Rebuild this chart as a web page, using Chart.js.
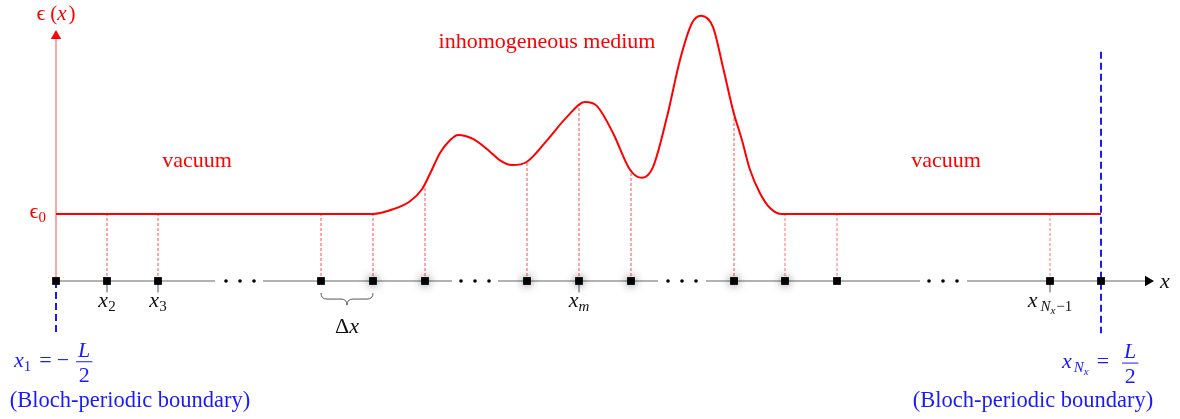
<!DOCTYPE html>
<html>
<head>
<meta charset="utf-8">
<script src="https://cdn.jsdelivr.net/npm/chart.js@4.4.1/dist/chart.umd.min.js"></script>
<style>
  html, body { margin: 0; padding: 0; background: #fff; }
  #wrap { width: 1180px; height: 419px; }
</style>
</head>
<body>
<div id="wrap"><canvas id="myChart" width="1180" height="419"></canvas></div>
<script>
// positions along x (same units as the picture), heights in units where eps0 = 1
const eps0 = 1;
const gridX = [56, 107, 158, 321, 373, 425, 527, 579, 631, 734, 785, 837, 1050, 1101];
const glowX = [373, 425, 527, 579, 631, 734, 785];
const ellipsisX = [226, 240, 254, 461, 475, 489, 668, 682, 696, 929, 943, 957];
const axisSegments = [[56, 215], [263, 452], [498, 658], [706, 920], [967, 1150]];

const curveX = [56, 373, 393, 410, 422, 430, 440, 450, 458, 473, 490, 500, 512, 527, 547, 567, 585, 597, 613, 630, 642, 653, 667, 680, 692, 701, 713, 723, 733, 742, 750, 760, 770, 782, 1101];
const curveEps = [1, 1, 1.07, 1.19, 1.37, 1.60, 1.91, 2.10, 2.18, 2.12, 1.93, 1.80, 1.73, 1.78, 2.10, 2.45, 2.67, 2.61, 2.21, 1.66, 1.54, 1.70, 2.45, 3.30, 3.85, 3.96, 3.79, 3.19, 2.55, 2.10, 1.66, 1.31, 1.09, 1, 1];

const dropX = [107, 158, 321, 373, 425, 527, 579, 631, 734];
const dropTop = [1, 1, 1, 1, 1.43, 1.78, 2.64, 1.66, 2.55];
const dropLightX = [785, 837, 1050];
const dropLightTop = [1, 1, 1];

const tickX = [107, 158, 579, 1050];
const tickLabels = ["2", "3", "m", "Nx-1"];

const leftBoundX = 56;
const rightBoundX = 1101;

function vlines(xs, tops, bottoms) {
  const out = [];
  xs.forEach((x, i) => {
    out.push({ x: x, y: bottoms[i] }, { x: x, y: tops[i] }, { x: x, y: null });
  });
  return out;
}

function hlines(segs, y) {
  const out = [];
  segs.forEach(([a, b]) => {
    out.push({ x: a, y: y }, { x: b, y: y }, { x: b, y: null });
  });
  return out;
}

const serif = "'Liberation Serif', 'DejaVu Serif', serif";
const red = "#ff0000";
const blue = "#1a1aff";

function fontOf(r) {
  return (r.it ? "italic " : "") + r.sz + "px " + serif;
}

function drawRuns(ctx, runs, x, y, align, color) {
  const widths = [];
  let total = 0;
  runs.forEach((r) => {
    let w;
    if (r.gap) {
      w = r.gap;
    } else if (r.frac) {
      ctx.font = fontOf({ sz: r.sz, it: true });
      const w1 = ctx.measureText(r.frac[0]).width;
      ctx.font = fontOf({ sz: r.sz });
      const w2 = ctx.measureText(r.frac[1]).width;
      w = Math.max(w1, w2) + 6;
    } else {
      ctx.font = fontOf(r);
      w = ctx.measureText(r.t).width;
    }
    widths.push(w);
    total += w;
  });
  let cx = align === "center" ? x - total / 2 : align === "right" ? x - total : x;
  ctx.fillStyle = color;
  ctx.strokeStyle = color;
  ctx.textBaseline = "alphabetic";
  runs.forEach((r, i) => {
    const w = widths[i];
    if (r.gap) {
      // spacing only
    } else if (r.frac) {
      const bar = y - 5;
      ctx.textAlign = "center";
      ctx.font = fontOf({ sz: r.sz, it: true });
      ctx.fillText(r.frac[0], cx + w / 2, bar - 5);
      ctx.font = fontOf({ sz: r.sz });
      ctx.fillText(r.frac[1], cx + w / 2, bar + 20);
      ctx.lineWidth = 1;
      ctx.beginPath();
      ctx.moveTo(cx + 1, bar);
      ctx.lineTo(cx + w - 1, bar);
      ctx.stroke();
    } else {
      ctx.textAlign = "left";
      ctx.font = fontOf(r);
      ctx.fillText(r.t, cx, y + (r.dy || 0));
    }
    cx += w;
  });
}

const sub = (t, it) => ({ t: t, sz: 15, it: it, dy: 4 });
const X = { t: "x", sz: 22, it: true };

const labels = [
  { x: 56, e: 3.90, align: "center", color: red, runs: [{ t: "ϵ", sz: 22 }, { gap: 5 }, { t: "(", sz: 21 }, { t: "x", sz: 21, it: true }, { gap: 2 }, { t: ")", sz: 21 }] },
  { x: 46, e: 0.94, align: "right", color: red, runs: [{ t: "ϵ", sz: 22 }, { t: "0", sz: 15, dy: 4 }] },
  { x: 197, e: 1.70, align: "center", color: red, runs: [{ t: "vacuum", sz: 22 }] },
  { x: 946, e: 1.70, align: "center", color: red, runs: [{ t: "vacuum", sz: 22 }] },
  { x: 547, e: 3.48, align: "center", color: red, runs: [{ t: "inhomogeneous medium", sz: 22 }] },
  { x: tickX[0], e: -0.39, align: "center", color: "#111", runs: [X, sub(tickLabels[0])] },
  { x: tickX[1], e: -0.39, align: "center", color: "#111", runs: [X, sub(tickLabels[1])] },
  { x: tickX[2], e: -0.39, align: "center", color: "#111", runs: [X, sub(tickLabels[2], true)] },
  { x: tickX[3], e: -0.39, align: "center", color: "#111", runs: [X, { gap: 3 }, sub("N", true), { t: "x", sz: 11, it: true, dy: 7 }, { gap: 1 }, sub("−1")] },
  { x: 1160, e: -0.10, align: "left", color: "#111", runs: [X] },
  { x: 347, e: -0.78, align: "center", color: "#111", runs: [{ t: "Δ", sz: 22 }, { t: "x", sz: 22, it: true }] },
  { x: 14, e: -1.28, align: "left", color: blue, runs: [X, sub("1"), { gap: 8 }, { t: "=", sz: 22 }, { gap: 5 }, { t: "−", sz: 22 }, { gap: 6 }, { frac: ["L", "2"], sz: 22 }] },
  { x: 1062, e: -1.30, align: "left", color: blue, runs: [X, { gap: 2 }, sub("N", true), { t: "x", sz: 11, it: true, dy: 7 }, { gap: 8 }, { t: "=", sz: 22 }, { gap: 12 }, { frac: ["L", "2"], sz: 22 }] },
  { x: 130, e: -1.88, align: "center", color: blue, runs: [{ t: "(Bloch-periodic boundary)", sz: 22.5 }] },
  { x: 1033, e: -1.88, align: "center", color: blue, runs: [{ t: "(Bloch-periodic boundary)", sz: 22.5 }] },
];

const glowPlugin = {
  id: "glow",
  beforeDatasetDraw(chart, args) {
    const ds = chart.data.datasets[args.index];
    if (ds.glow) {
      chart.ctx.save();
      chart.ctx.shadowColor = "rgba(0,0,0,0.6)";
      chart.ctx.shadowBlur = 10;
    }
  },
  afterDatasetDraw(chart, args) {
    const ds = chart.data.datasets[args.index];
    if (ds.glow) chart.ctx.restore();
  },
};

const textPlugin = {
  id: "texts",
  afterDatasetsDraw(chart) {
    const ctx = chart.ctx;
    const xs = chart.scales.x;
    const ys = chart.scales.y;
    ctx.save();
    labels.forEach((l) => {
      drawRuns(ctx, l.runs, xs.getPixelForValue(l.x), ys.getPixelForValue(l.e), l.align, l.color);
    });
    // brace under the spacing dx
    const a = xs.getPixelForValue(gridX[3]);
    const b = xs.getPixelForValue(gridX[4]);
    const m = (a + b) / 2;
    const y0 = ys.getPixelForValue(-0.18);
    const y1 = ys.getPixelForValue(-0.27);
    const y2 = ys.getPixelForValue(-0.36);
    ctx.strokeStyle = "#555";
    ctx.lineWidth = 1;
    ctx.beginPath();
    ctx.moveTo(a, y0);
    ctx.quadraticCurveTo(a, y1, a + 6, y1);
    ctx.lineTo(m - 6, y1);
    ctx.quadraticCurveTo(m, y1, m, y2);
    ctx.quadraticCurveTo(m, y1, m + 6, y1);
    ctx.lineTo(b - 6, y1);
    ctx.quadraticCurveTo(b, y1, b, y0);
    ctx.stroke();
    ctx.restore();
  },
};

const plainGrid = gridX.filter((x) => glowX.indexOf(x) < 0);

const line = (data, color, width, dash, extra) =>
  Object.assign({ type: "line", data: data, borderColor: color, borderWidth: width, borderDash: dash || [], pointRadius: 0, spanGaps: false, clip: false, fill: false }, extra || {});

// listed bottom layer first
const datasets = [
  // y axis (pink) and its arrow
  line([{ x: leftBoundX, y: 0 }, { x: leftBoundX, y: 3.61 }], "rgba(255,0,0,0.35)", 2),
  { type: "scatter", data: [{ x: leftBoundX, y: 3.657 }], pointStyle: "triangle", pointRadius: 6, backgroundColor: red, borderWidth: 0, clip: false },
  // dashed drop lines
  line(vlines(dropX, dropTop, dropX.map(() => 0)), "rgba(255,0,0,0.7)", 1, [3, 2]),
  line(vlines(dropLightX, dropLightTop, dropLightX.map(() => 0)), "rgba(255,60,60,0.45)", 1.6, [3, 2]),
  // x axis
  line(hlines(axisSegments, 0), "#999", 1.3),
  { type: "scatter", data: [{ x: 1148, y: 0 }], pointStyle: "triangle", rotation: 90, pointRadius: 6, backgroundColor: "#000", borderWidth: 0, clip: false },
  // small ticks under labelled points
  line(vlines(tickX, tickX.map(() => 0), tickX.map(() => -0.17)), "#555", 1),
  // permittivity profile
  line(curveX.map((x, i) => ({ x: x, y: curveEps[i] * eps0 })), red, 2, [], { cubicInterpolationMode: "monotone" }),
  // boundaries
  line([{ x: leftBoundX, y: 0 }, { x: leftBoundX, y: -0.78 }], blue, 2, [7, 4]),
  line([{ x: rightBoundX, y: 3.42 }, { x: rightBoundX, y: -0.78 }], blue, 2, [7, 4]),
  // ellipsis dots
  { type: "scatter", data: ellipsisX.map((x) => ({ x: x, y: 0 })), pointRadius: 1.8, backgroundColor: "#000", borderWidth: 0, clip: false },
  // grid points
  { type: "scatter", glow: true, data: glowX.map((x) => ({ x: x, y: 0 })), pointStyle: "rect", pointRadius: 5.5, backgroundColor: "#000", borderWidth: 0, clip: false },
  { type: "scatter", data: plainGrid.map((x) => ({ x: x, y: 0 })), pointStyle: "rect", pointRadius: 5.5, backgroundColor: "#000", borderWidth: 0, clip: false },
];
// Chart.js paints lower order on top
datasets.forEach((d, i) => { d.order = datasets.length - i; });

const config = {
  type: "line",
  data: { datasets: datasets },
  options: {
    responsive: false,
    animation: false,
    events: [],
    layout: { padding: 0, autoPadding: false },
    plugins: { legend: { display: false }, tooltip: { enabled: false } },
    scales: {
      x: { type: "linear", min: 0, max: 1180, display: false },
      y: { type: "linear", min: -2.06, max: 4.194, display: false },
    },
  },
  plugins: [glowPlugin, textPlugin],
};

new Chart(document.getElementById("myChart"), config);
</script>
</body>
</html>
